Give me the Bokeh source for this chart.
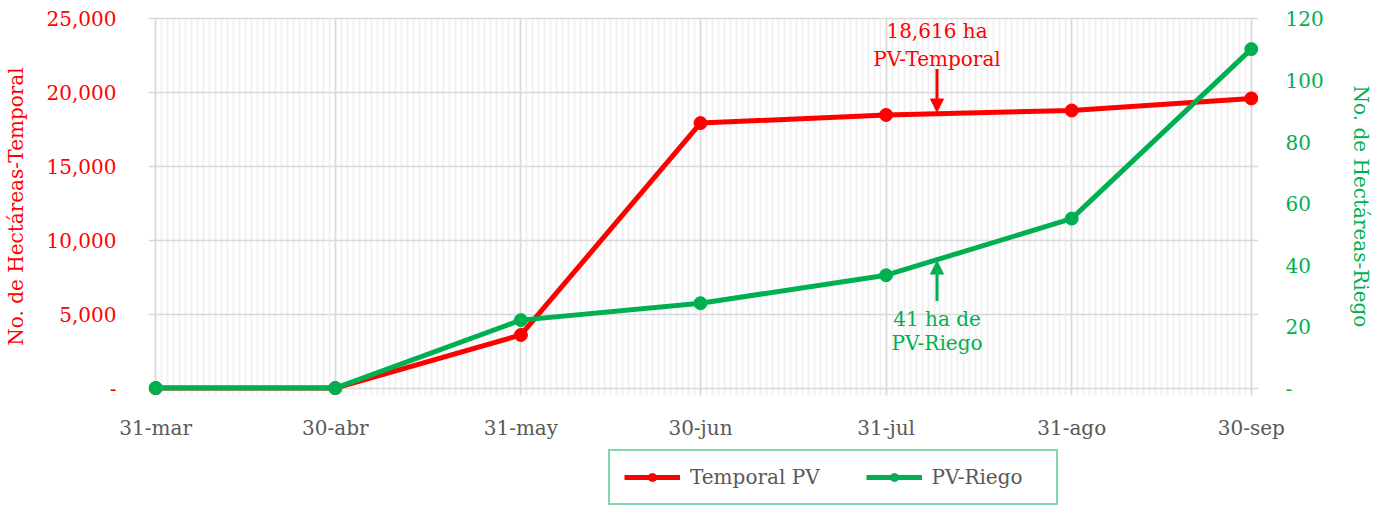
from bokeh.plotting import figure
from bokeh.layouts import column
from bokeh.models import (Range1d, LinearAxis, FixedTicker, NumeralTickFormatter,
                          Legend, LegendItem, Arrow, NormalHead)
from bokeh.core.properties import value
from bokeh.embed import file_html
from bokeh.resources import INLINE

# ---- data ----
dates = ["31-mar", "30-abr", "31-may", "30-jun", "31-jul", "31-ago", "30-sep"]
x_days = [0, 30, 61, 91, 122, 153, 183]          # days after 31-mar
temporal = [0, 0, 3600, 17950, 18500, 18800, 19620]
riego = [0, 0, 22.1, 27.6, 36.7, 55.1, 110.2]
series_names = ["Temporal PV", "PV-Riego"]

left_ticks = [0, 5000, 10000, 15000, 20000, 25000]
right_ticks = [0, 20, 40, 60, 80, 100, 120]

ann_temporal_text = ["18,616 ha", "PV-Temporal"]
ann_temporal_y = [24190, 22290]
ann_temporal_arrow = (21612, 18700)
ann_riego_text = ["41 ha de", "PV-Riego"]
ann_riego_y = [22.4, 14.6]
ann_riego_arrow = (28.3, 41.3)
ann_x = 130.5

RED = "#FF0000"
GREEN = "#00B050"
GRAY_TXT = "#595959"
FONT = "DejaVu Serif"

y_lo, y_hi = -500, 25100
x_lo, x_hi = -1.2, 184.2

p = figure(width=1364, height=440, frame_width=1110, frame_height=378,
           x_range=Range1d(x_lo, x_hi), y_range=Range1d(y_lo, y_hi),
           output_backend="svg", toolbar_location=None,
           min_border_left=140, min_border_right=114,
           min_border_top=17, min_border_bottom=45)
p.outline_line_color = None
p.background_fill_color = "white"
p.border_fill_color = "white"

scale = 120 / 25000
p.extra_y_ranges = {"riego": Range1d(y_lo * scale, y_hi * scale)}

# grids
p.xgrid.ticker = FixedTicker(ticks=x_days, minor_ticks=list(range(0, 184)))
p.xgrid.grid_line_color = "#d9d9d9"
p.xgrid.grid_line_width = 1.5
p.xgrid.minor_grid_line_color = "#f0f0f0"
p.xgrid.minor_grid_line_width = 2
p.ygrid.ticker = FixedTicker(ticks=left_ticks)
p.ygrid.grid_line_color = "#d9d9d9"
p.ygrid.grid_line_width = 1.5

# x axis
xa = p.xaxis[0]
xa.ticker = FixedTicker(ticks=x_days)
xa.major_label_overrides = {d: s for d, s in zip(x_days, dates)}
xa.axis_line_color = None
xa.major_tick_line_color = None
xa.minor_tick_line_color = None
xa.major_label_text_color = GRAY_TXT
xa.major_label_text_font = FONT
xa.major_label_text_font_size = "20px"
xa.major_label_standoff = 14

# left axis
ya = p.yaxis[0]
ya.ticker = FixedTicker(ticks=left_ticks)
ya.formatter = NumeralTickFormatter(format="0,0")
ya.major_label_overrides = {0: "-"}
ya.axis_line_color = None
ya.major_tick_line_color = None
ya.minor_tick_line_color = None
ya.major_label_text_color = RED
ya.major_label_text_font = FONT
ya.major_label_text_font_size = "20px"
ya.major_label_standoff = 26
ya.axis_label = "No. de Hectáreas-Temporal"
ya.axis_label_text_color = RED
ya.axis_label_text_font = FONT
ya.axis_label_text_font_size = "20px"
ya.axis_label_text_font_style = "normal"
ya.axis_label_standoff = 16

# right axis
ra = LinearAxis(y_range_name="riego", ticker=FixedTicker(ticks=right_ticks))
ra.major_label_overrides = {0: "-"}
ra.axis_line_color = None
ra.major_tick_line_color = None
ra.minor_tick_line_color = None
ra.major_label_text_color = GREEN
ra.major_label_text_font = FONT
ra.major_label_text_font_size = "20px"
ra.major_label_standoff = 21
ra.axis_label = "No. de Hectáreas-Riego"
ra.axis_label_text_color = GREEN
ra.axis_label_text_font = FONT
ra.axis_label_text_font_size = "20px"
ra.axis_label_text_font_style = "normal"
ra.axis_label_standoff = 22
p.add_layout(ra, "right")

# series
p.line(x_days, temporal, line_color=RED, line_width=5)
p.scatter(x_days, temporal, size=13, fill_color=RED, line_color=RED)
p.line(x_days, riego, line_color=GREEN, line_width=5, y_range_name="riego")
p.scatter(x_days, riego, size=13, fill_color=GREEN, line_color=GREEN,
          y_range_name="riego")

# annotations
p.text([ann_x] * 2, ann_temporal_y, text=ann_temporal_text, text_color=RED,
       text_align="center", text_baseline="middle",
       text_font=value(FONT), text_font_size="20px")
p.add_layout(Arrow(x_start=ann_x, y_start=ann_temporal_arrow[0],
                   x_end=ann_x, y_end=ann_temporal_arrow[1],
                   line_color=RED, line_width=3,
                   end=NormalHead(size=13, fill_color=RED, line_color=RED)))
p.text([ann_x] * 2, ann_riego_y, text=ann_riego_text, text_color=GREEN,
       text_align="center", text_baseline="middle", y_range_name="riego",
       text_font=value(FONT), text_font_size="20px")
p.add_layout(Arrow(x_start=ann_x, y_start=ann_riego_arrow[0],
                   x_end=ann_x, y_end=ann_riego_arrow[1],
                   y_range_name="riego",
                   line_color=GREEN, line_width=3,
                   end=NormalHead(size=13, fill_color=GREEN, line_color=GREEN)))

# ---- legend strip (separate small figure below the chart) ----
lf = figure(width=1364, height=64, x_range=Range1d(-20, -10), y_range=Range1d(-1, 1),
            x_axis_type=None, y_axis_type=None,
            output_backend="svg", toolbar_location=None,
            min_border_left=0, min_border_right=0, min_border_top=0, min_border_bottom=0)
lf.outline_line_color = None
lf.background_fill_color = "white"
lf.border_fill_color = "white"
# same series, drawn outside this strip's visible range: only their legend glyphs show
lr_line = lf.line(x_days, temporal, line_color=RED, line_width=5)
lr_pts = lf.scatter(x_days, temporal, size=13, fill_color=RED, line_color=RED)
lg_line = lf.line(x_days, riego, line_color=GREEN, line_width=5)
lg_pts = lf.scatter(x_days, riego, size=13, fill_color=GREEN, line_color=GREEN)

legend = Legend(items=[LegendItem(label=series_names[0], renderers=[lr_line, lr_pts]),
                       LegendItem(label=series_names[1], renderers=[lg_line, lg_pts])],
                orientation="horizontal", location=(460, 1),
                border_line_color=GREEN, border_line_width=2,
                padding=14, spacing=46, label_standoff=10, label_width=110,
                glyph_width=56, glyph_height=20, label_height=22,
                label_text_font=FONT, label_text_font_size="20px",
                label_text_color=GRAY_TXT, margin=0)
lf.add_layout(legend, "center")

layout = column(p, lf, spacing=0)
open("out.html", "w").write(file_html(layout, INLINE))
